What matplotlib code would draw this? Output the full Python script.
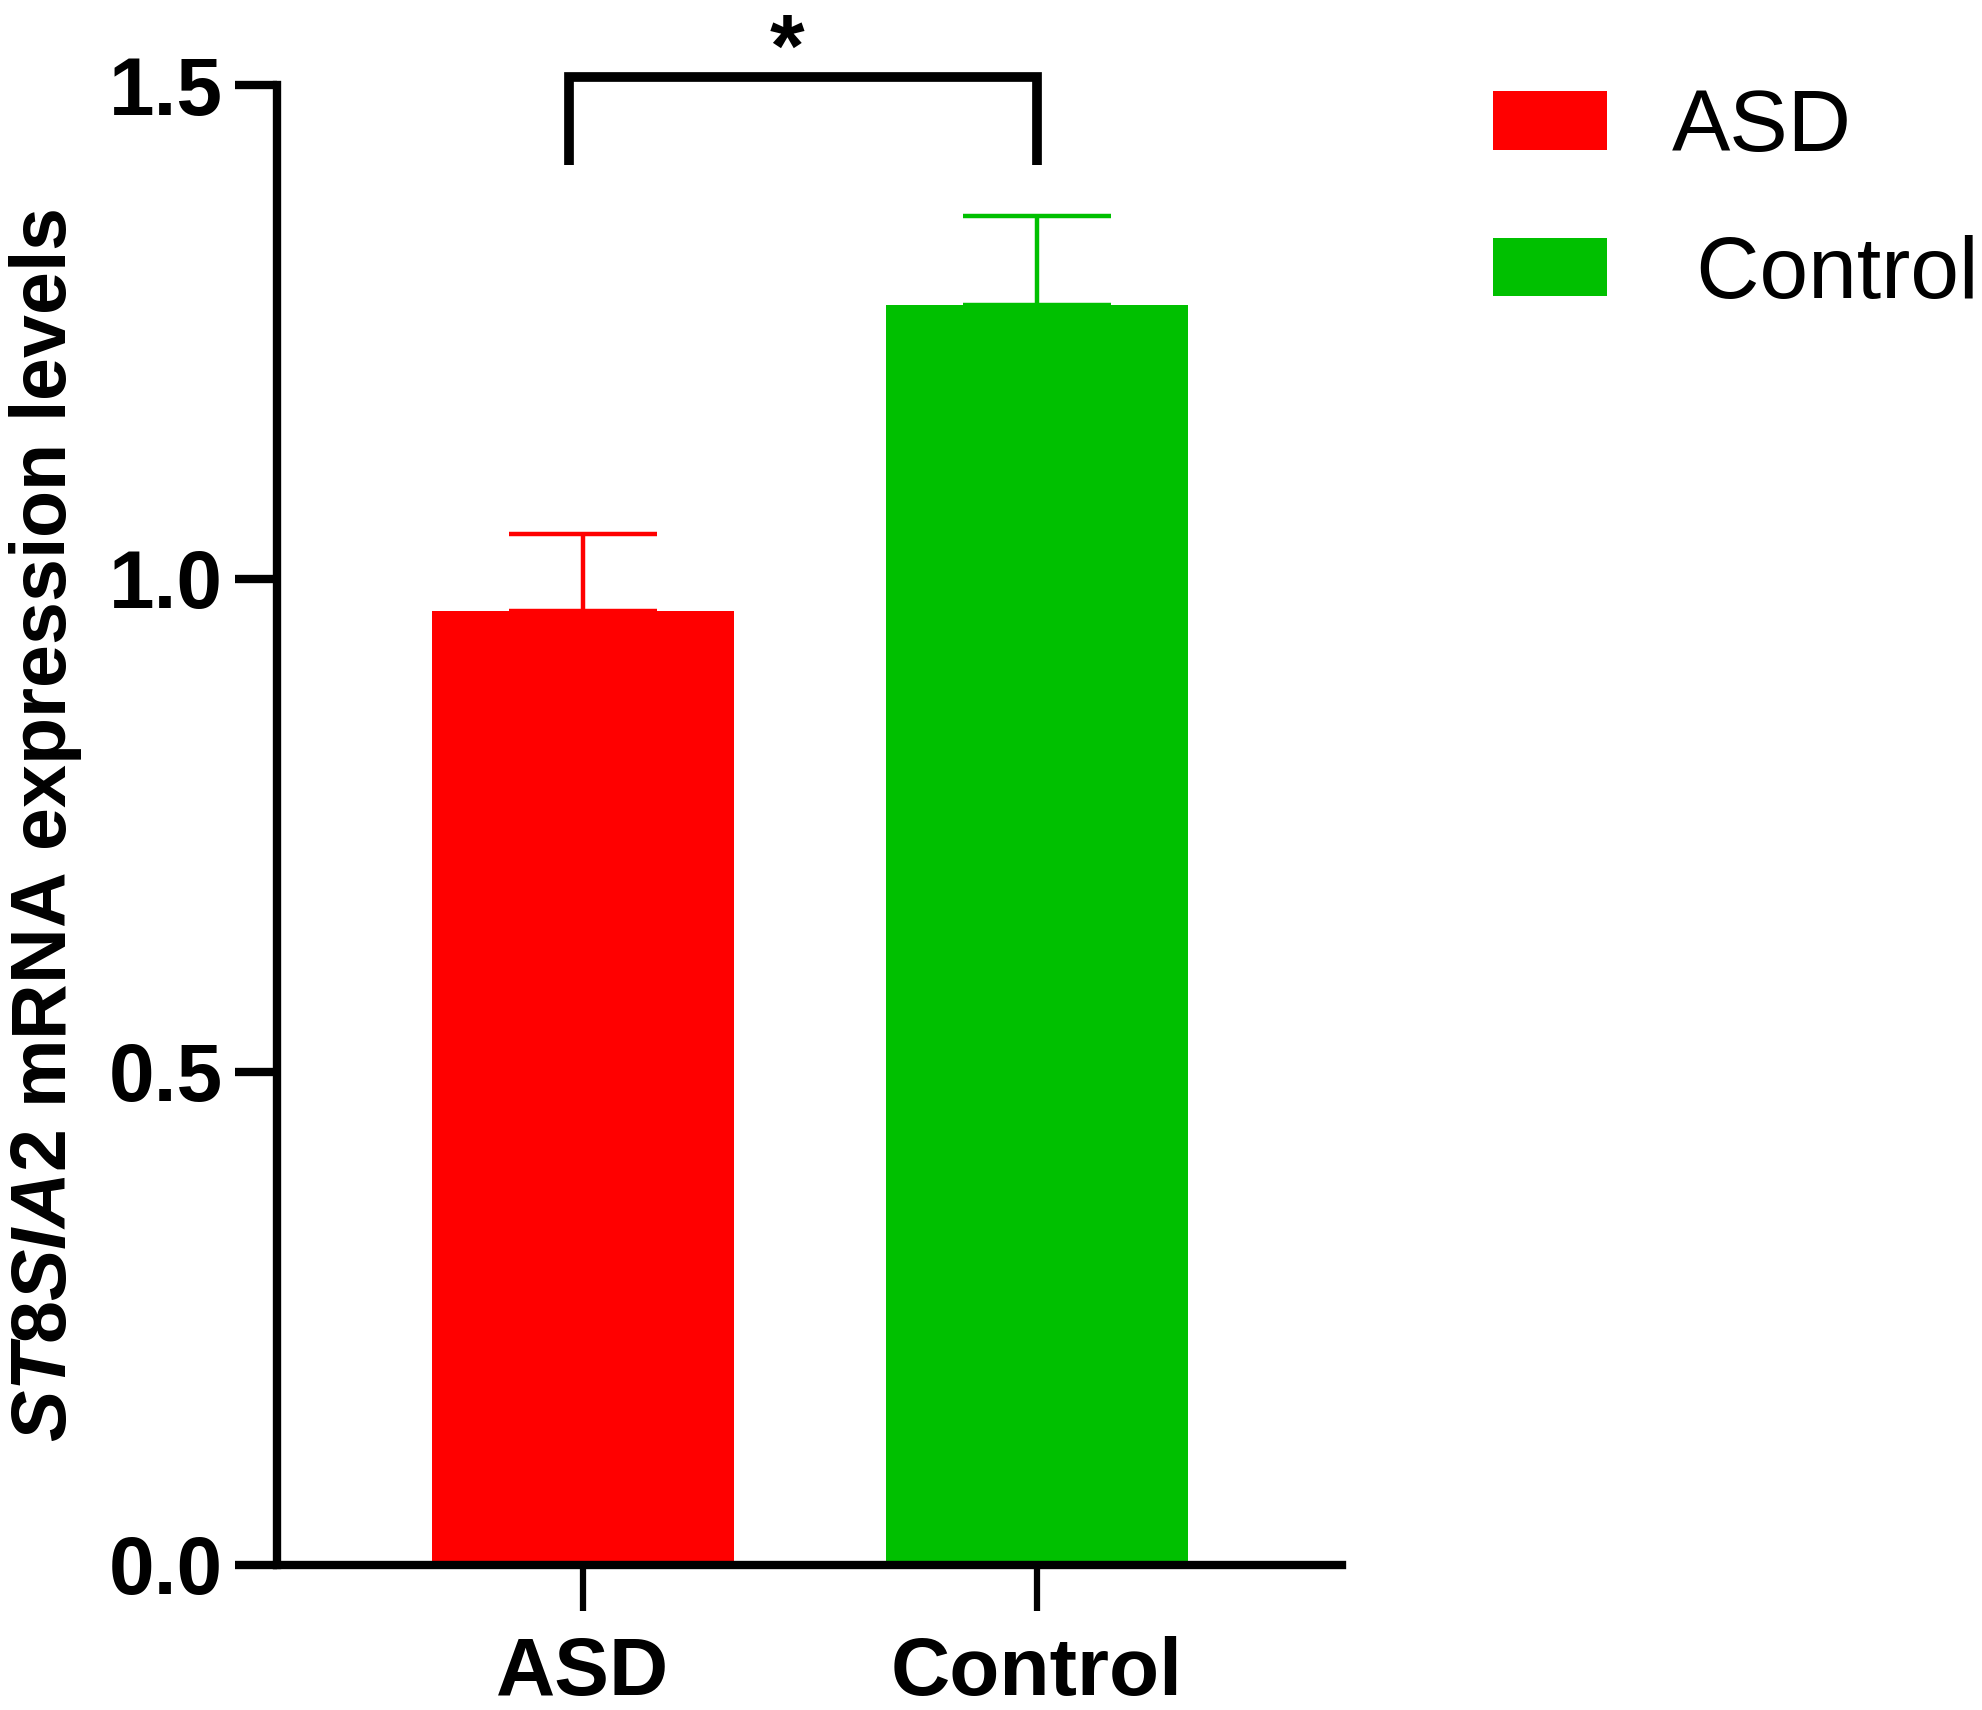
import matplotlib
matplotlib.use("Agg")
import matplotlib.pyplot as plt
from matplotlib.patches import Patch

categories = ["ASD", "Control"]
means = [0.967, 1.277]
sems = [0.078, 0.091]
bar_colors = ["#FF0000", "#00C000"]
yticks = [0.0, 0.5, 1.0, 1.5]
ytick_labels = ["0.0", "0.5", "1.0", "1.5"]
legend_labels = ["ASD", " Control"]
sig_label = "*"

plt.rcParams['font.family'] = ['Liberation Sans', 'DejaVu Sans']
plt.rcParams['mathtext.fontset'] = 'custom'
plt.rcParams['mathtext.it'] = 'Liberation Sans:italic:bold'
plt.rcParams['mathtext.rm'] = 'Liberation Sans:bold'

fig = plt.figure(figsize=(19.83, 17.10), dpi=100)
ax = fig.add_axes([0.1397, 0.0848, 0.5373, 0.8652])

x = list(range(len(categories)))
ax.bar(x, means, width=0.665, color=bar_colors, zorder=2)
for xi, m, s, c in zip(x, means, sems, bar_colors):
    ax.errorbar(xi, m, yerr=[[0], [s]], fmt='none', ecolor=c, elinewidth=3.2,
                capsize=53, capthick=3.2, zorder=1)

ax.set_xlim(-0.674, 1.674)
ax.set_ylim(0, 1.5)
ax.set_yticks(yticks)
ax.set_yticklabels(ytick_labels)
ax.set_xticks(x)
ax.set_xticklabels(categories)

for side in ['top', 'right']:
    ax.spines[side].set_visible(False)
for side in ['left', 'bottom']:
    ax.spines[side].set_linewidth(6)
ax.spines['left'].set_capstyle('projecting')

ax.tick_params(axis='y', length=30, width=6, pad=9, labelsize=59)
ax.tick_params(axis='x', length=33, width=4.5, pad=18, labelsize=59)
for lbl in ax.get_xticklabels() + ax.get_yticklabels():
    lbl.set_fontweight('bold')

ax.set_ylabel(r'$\mathit{ST8SIA2}$ mRNA expression levels', fontsize=55.5,
              fontweight='bold', labelpad=18)

# significance bracket
bx0, bx1 = -0.03, 1.0
by_top, by_bot = 1.509, 1.419
ax.plot([bx0, bx0, bx1, bx1], [by_bot, by_top, by_top, by_bot], color='black',
        lw=7, clip_on=False, solid_joinstyle='miter', solid_capstyle='butt')
ax.text((bx0 + bx1) / 2 - 0.035, 1.51, sig_label, ha='center', va='baseline',
        fontsize=64, fontweight='bold', clip_on=False)

handles = [Patch(facecolor=c, edgecolor='none') for c in bar_colors]
fig.legend(handles, legend_labels, loc='upper left',
           bbox_to_anchor=(0.7529, 0.9485), frameon=False, fontsize=63,
           handlelength=1.30, handleheight=0.65, handletextpad=0.74,
           labelspacing=0.75, borderpad=0, borderaxespad=0)

fig.savefig("out.png", dpi=100)
